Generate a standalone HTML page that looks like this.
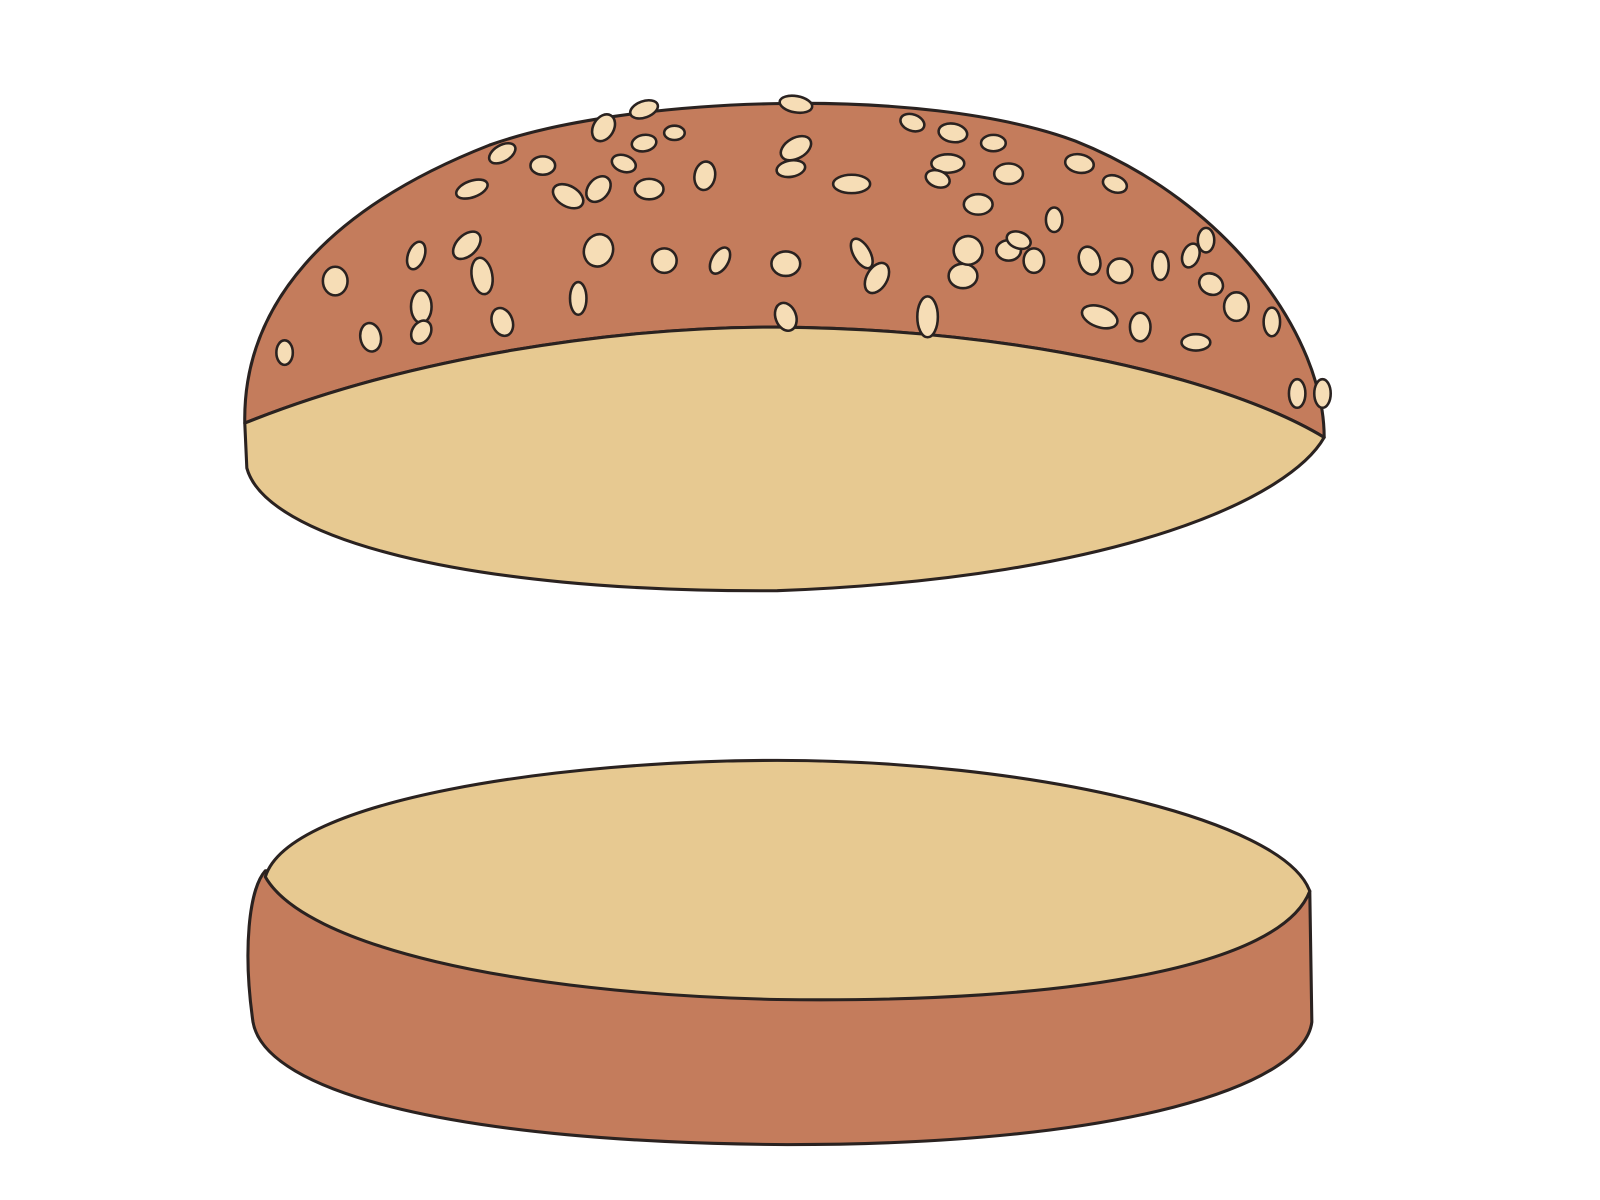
<!DOCTYPE html>
<html><head><meta charset="utf-8"><style>
html,body{margin:0;padding:0;background:#fff;width:1600px;height:1200px;overflow:hidden}
</style></head><body>
<svg width="1600" height="1200" viewBox="0 0 1600 1200">
<g transform="translate(-4,0) scale(1.028,1.022)">
<g stroke="#2a2220" stroke-width="3" stroke-linejoin="round">
<path fill="#C47C5C" d="M242,414 C240,300 320,205 480,142 C610,95 900,82 1050,138 C1200,198 1292,330 1292,428 C1200,372 1000,322 760,320 C600,320 400,350 242,414 Z"/>
<path fill="#E7C991" d="M242,414 C400,350 600,320 760,320 C1000,322 1200,372 1292,428 C1260,485 1100,565 760,578 C450,580 262,525 244,458 Z"/>
<g id="seeds" fill="#F6DDB6" stroke="#2a2220" stroke-width="2.5"></g>
</g>
<g stroke="#2a2220" stroke-width="3" stroke-linejoin="round">
<path fill="#C47C5C" d="M262,852 C246,870 240,930 250,1000 C262,1070 450,1118 770,1120 C1100,1120 1272,1062 1280,1000 L1278,872 Z"/>
<path fill="#E7C991" d="M262,858 C285,782 550,744 760,744 C1000,744 1252,800 1278,872 C1250,945 1050,982 760,978 C500,972 300,925 262,858 Z"/>
</g>
</g>
</svg>
<script>
const seeds=[[640,107,14,8,-20],[790,102,16,8,10],[600,125,10,14,30],[640,140,12,8,-10],[670,130,10,7,0],[620,160,12,8,20],[500,150,14,8,-30],[540,162,12,9,0],[470,185,16,8,-20],[565,192,16,10,30],[595,185,10,14,40],[645,185,14,10,0],[700,172,10,14,10],[790,145,10,16,60],[785,165,14,8,-10],[845,180,18,9,0],[905,120,12,8,20],[945,130,14,9,10],[985,140,12,8,0],[940,160,16,9,0],[930,175,12,8,20],[1000,170,14,10,0],[1070,160,14,9,10],[1105,180,12,8,20],[970,200,14,10,0],[1045,215,8,12,0],[415,250,8,14,20],[465,240,10,16,45],[480,270,10,18,-10],[420,300,10,16,0],[335,275,12,14,0],[285,345,8,12,0],[370,330,10,14,-10],[420,325,9,12,30],[500,315,10,14,-20],[575,292,8,16,0],[595,245,14,16,20],[660,255,12,12,0],[715,255,8,14,30],[780,258,14,12,0],[855,248,8,16,-30],[870,272,10,16,30],[780,310,10,14,-20],[920,310,10,20,0],[955,270,14,12,0],[960,245,14,14,20],[1000,245,12,10,0],[1025,255,10,12,0],[1010,235,12,8,20],[1080,255,10,14,-20],[1110,265,12,12,0],[1150,260,8,14,0],[1195,235,8,12,0],[1180,250,8,12,20],[1200,278,12,10,30],[1225,300,12,14,0],[1260,315,8,14,0],[1090,310,18,10,20],[1130,320,10,14,0],[1185,335,14,8,0],[1285,385,8,14,0],[1310,385,8,14,0]];
const g=document.getElementById('seeds');
seeds.forEach(s=>{
const e=document.createElementNS('http://www.w3.org/2000/svg','ellipse');


e.setAttribute('cx',s[0]*0.985);e.setAttribute('cy',s[1]);e.setAttribute('rx',s[2]);e.setAttribute('ry',s[3]);
e.setAttribute('transform',`rotate(${s[4]} ${s[0]*0.985} ${s[1]})`);g.appendChild(e);});
</script>
</body></html>
